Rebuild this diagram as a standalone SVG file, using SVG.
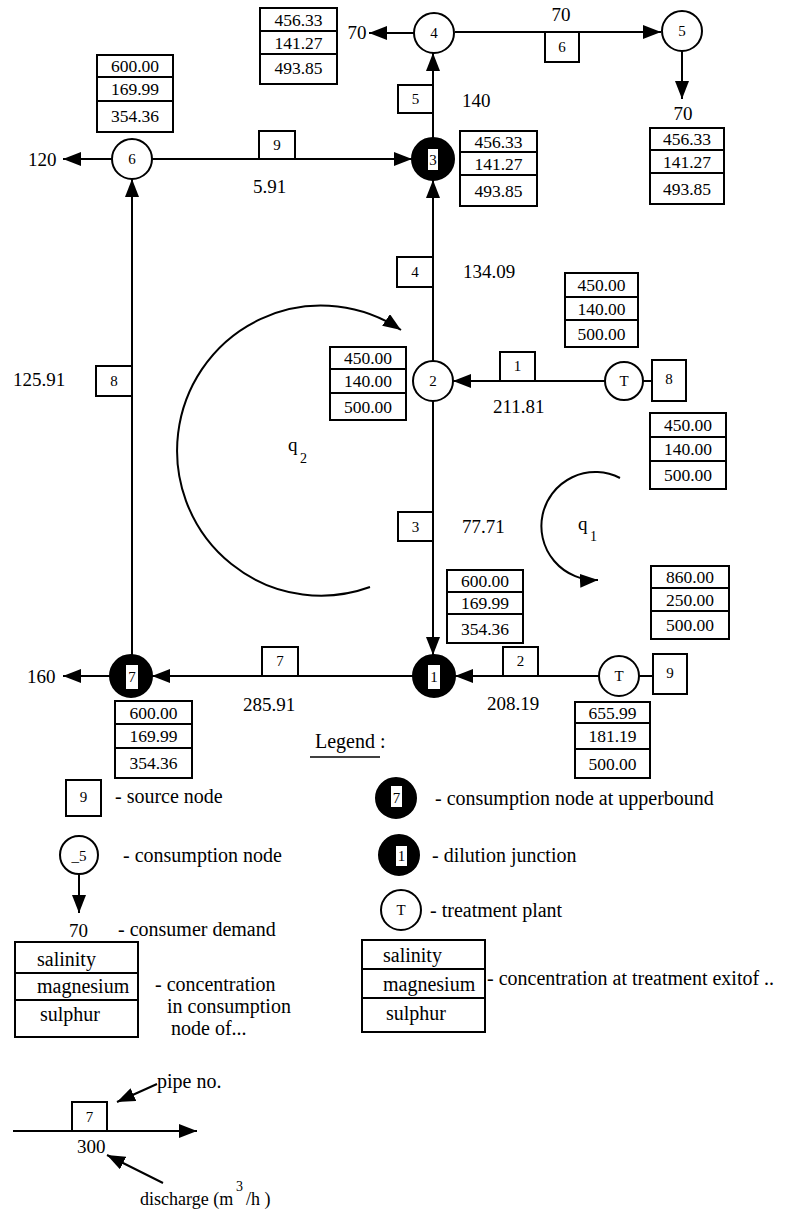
<svg xmlns="http://www.w3.org/2000/svg" width="792" height="1213" viewBox="0 0 792 1213" font-family="'Liberation Serif', 'DejaVu Serif', 'Times New Roman', serif">
<style>
.ln{stroke:#000;stroke-width:2;fill:none}
.bx{fill:#fff;stroke:#000;stroke-width:2}
.nd{fill:#fff;stroke:#000;stroke-width:2}
.bk{fill:#000;stroke:#000;stroke-width:2}
.wr{fill:#fff;stroke:none}
text{font-family:'Liberation Serif','DejaVu Serif','Times New Roman',serif;fill:#000}
.v{font-size:17.5px;text-anchor:middle}
.f{font-size:19px}
.fc{font-size:19px;text-anchor:middle}
.n{font-size:15px;text-anchor:middle}
.lg{font-size:20px}
.sm{font-size:14px}
</style>
<defs>
<marker id="ah" markerUnits="userSpaceOnUse" markerWidth="18" markerHeight="14" refX="18" refY="7" orient="auto" viewBox="0 0 18 14">
<path d="M0,0 L18,7 L0,14 z" fill="#000"/>
</marker>
</defs>
<rect width="792" height="1213" fill="#fff"/>

<g id="connectors">
<line class="ln" x1="414" y1="33" x2="369" y2="33" marker-end="url(#ah)"/>
<line class="ln" x1="455" y1="32" x2="661" y2="32" marker-end="url(#ah)"/>
<line class="ln" x1="682" y1="51" x2="682" y2="99" marker-end="url(#ah)"/>
<line class="ln" x1="433" y1="138" x2="433" y2="53" marker-end="url(#ah)"/>
<line class="ln" x1="112" y1="159" x2="63" y2="159" marker-end="url(#ah)"/>
<line class="ln" x1="152" y1="159" x2="412" y2="159" marker-end="url(#ah)"/>
<line class="ln" x1="132" y1="655" x2="132" y2="179" marker-end="url(#ah)"/>
<line class="ln" x1="433" y1="361" x2="433" y2="180" marker-end="url(#ah)"/>
<line class="ln" x1="605" y1="381" x2="453" y2="381" marker-end="url(#ah)"/>
<line class="ln" x1="643" y1="381" x2="652" y2="381"/>
<line class="ln" x1="433" y1="401" x2="433" y2="655" marker-end="url(#ah)"/>
<line class="ln" x1="599" y1="676" x2="455" y2="676" marker-end="url(#ah)"/>
<line class="ln" x1="639" y1="676" x2="653" y2="676"/>
<line class="ln" x1="413" y1="676" x2="152" y2="676" marker-end="url(#ah)"/>
<line class="ln" x1="110" y1="676" x2="63" y2="676" marker-end="url(#ah)"/>
<path class="ln" d="M370 587 A144 145 0 1 1 401 330" marker-end="url(#ah)"/>
<path class="ln" d="M620 478 A54 54 0 1 0 598 580" marker-end="url(#ah)"/>
</g>

<g id="pipes">
<g id="p9"><rect class="bx" x="259" y="131" width="36" height="28"/><text class="n" x="277" y="150">9</text></g>
<g id="p6"><rect class="bx" x="545" y="32" width="34" height="30"/><text class="n" x="562" y="52">6</text></g>
<g id="p5"><rect class="bx" x="398" y="85" width="35" height="28"/><text class="n" x="415.5" y="104">5</text></g>
<g id="p4"><rect class="bx" x="397" y="257" width="36" height="30"/><text class="n" x="415" y="277">4</text></g>
<g id="p8"><rect class="bx" x="96" y="366" width="36" height="30"/><text class="n" x="114" y="386">8</text></g>
<g id="p1"><rect class="bx" x="500" y="352" width="35" height="29"/><text class="n" x="517.5" y="371">1</text></g>
<g id="p3"><rect class="bx" x="398" y="512" width="35" height="29"/><text class="n" x="415.5" y="532">3</text></g>
<g id="p2"><rect class="bx" x="503" y="647" width="35" height="29"/><text class="n" x="520.5" y="666">2</text></g>
<g id="p7"><rect class="bx" x="262" y="647" width="36" height="29"/><text class="n" x="280" y="666">7</text></g>
</g>

<g id="node4"><circle class="nd" cx="434" cy="33" r="20"/><text class="n" x="434" y="38">4</text></g>
<g id="node5"><circle class="nd" cx="682" cy="31" r="20"/><text class="n" x="682" y="36">5</text></g>
<g id="node6"><circle class="nd" cx="132" cy="159" r="20"/><text class="n" x="132" y="164">6</text></g>
<g id="node3"><circle class="bk" cx="433" cy="159" r="21"/><rect class="wr" x="428" y="149" width="10" height="21"/><text class="n" x="433" y="165">3</text></g>
<g id="node2"><circle class="nd" cx="433" cy="381" r="20"/><text class="n" x="433" y="386">2</text></g>
<g id="nodeT1"><circle class="nd" cx="624" cy="381" r="19"/><text class="n" x="624" y="386">T</text></g>
<g id="src8"><rect class="bx" x="652" y="360" width="34" height="41"/><text class="n" x="669" y="384">8</text></g>
<g id="node7"><circle class="bk" cx="131" cy="676" r="21"/><rect class="wr" x="126" y="665" width="12" height="24"/><text class="n" x="132" y="682">7</text></g>
<g id="node1"><circle class="bk" cx="434" cy="676" r="21"/><rect class="wr" x="428" y="665" width="12" height="24"/><text class="n" x="434" y="682">1</text></g>
<g id="nodeT2"><circle class="nd" cx="619" cy="676" r="20"/><text class="n" x="619" y="681">T</text></g>
<g id="src9"><rect class="bx" x="653" y="654" width="34" height="40"/><text class="n" x="670" y="678">9</text></g>

<g id="concA"><rect class="bx" x="260" y="8" width="77" height="76"/><line class="ln" x1="260" y1="31" x2="337" y2="31"/><line class="ln" x1="260" y1="54" x2="337" y2="54"/><text class="v" x="298.5" y="25.5">456.33</text><text class="v" x="298.5" y="48.5">141.27</text><text class="v" x="298.5" y="74">493.85</text></g>
<g id="concB"><rect class="bx" x="97" y="55" width="76" height="77"/><line class="ln" x1="97" y1="77" x2="173" y2="77"/><line class="ln" x1="97" y1="101" x2="173" y2="101"/><text class="v" x="135" y="72">600.00</text><text class="v" x="135" y="95">169.99</text><text class="v" x="135" y="122">354.36</text></g>
<g id="concC"><rect class="bx" x="460" y="131" width="77" height="75"/><line class="ln" x1="460" y1="152" x2="537" y2="152"/><line class="ln" x1="460" y1="175" x2="537" y2="175"/><text class="v" x="498.5" y="147.5">456.33</text><text class="v" x="498.5" y="169.5">141.27</text><text class="v" x="498.5" y="196.5">493.85</text></g>
<g id="concD"><rect class="bx" x="650" y="128" width="74" height="76"/><line class="ln" x1="650" y1="150" x2="724" y2="150"/><line class="ln" x1="650" y1="173" x2="724" y2="173"/><text class="v" x="687" y="145">456.33</text><text class="v" x="687" y="167.5">141.27</text><text class="v" x="687" y="194.5">493.85</text></g>
<g id="concE"><rect class="bx" x="565" y="273" width="73" height="74"/><line class="ln" x1="565" y1="297" x2="638" y2="297"/><line class="ln" x1="565" y1="320" x2="638" y2="320"/><text class="v" x="601.5" y="291">450.00</text><text class="v" x="601.5" y="314.5">140.00</text><text class="v" x="601.5" y="339.5">500.00</text></g>
<g id="concF"><rect class="bx" x="330" y="347" width="76" height="73"/><line class="ln" x1="330" y1="369" x2="406" y2="369"/><line class="ln" x1="330" y1="393" x2="406" y2="393"/><text class="v" x="368" y="364">450.00</text><text class="v" x="368" y="387">140.00</text><text class="v" x="368" y="412.5">500.00</text></g>
<g id="concG"><rect class="bx" x="650" y="413" width="76" height="76"/><line class="ln" x1="650" y1="437" x2="726" y2="437"/><line class="ln" x1="650" y1="461" x2="726" y2="461"/><text class="v" x="688" y="431">450.00</text><text class="v" x="688" y="455">140.00</text><text class="v" x="688" y="481">500.00</text></g>
<g id="concH"><rect class="bx" x="447" y="570" width="76" height="73"/><line class="ln" x1="447" y1="592" x2="523" y2="592"/><line class="ln" x1="447" y1="614" x2="523" y2="614"/><text class="v" x="485" y="587">600.00</text><text class="v" x="485" y="609">169.99</text><text class="v" x="485" y="634.5">354.36</text></g>
<g id="concI"><rect class="bx" x="651" y="566" width="78" height="73"/><line class="ln" x1="651" y1="588" x2="729" y2="588"/><line class="ln" x1="651" y1="611" x2="729" y2="611"/><text class="v" x="690" y="583">860.00</text><text class="v" x="690" y="605.5">250.00</text><text class="v" x="690" y="631">500.00</text></g>
<g id="concJ"><rect class="bx" x="115" y="701" width="77" height="77"/><line class="ln" x1="115" y1="724" x2="192" y2="724"/><line class="ln" x1="115" y1="748" x2="192" y2="748"/><text class="v" x="153.5" y="718.5">600.00</text><text class="v" x="153.5" y="742">169.99</text><text class="v" x="153.5" y="769">354.36</text></g>
<g id="concK"><rect class="bx" x="575" y="702" width="75" height="76"/><line class="ln" x1="575" y1="723" x2="650" y2="723"/><line class="ln" x1="575" y1="749" x2="650" y2="749"/><text class="v" x="612.5" y="718.5">655.99</text><text class="v" x="612.5" y="742">181.19</text><text class="v" x="612.5" y="769.5">500.00</text></g>

<g id="flows">
<text class="fc" x="357" y="39">70</text>
<text class="fc" x="561" y="21">70</text>
<text class="fc" x="683" y="120">70</text>
<text class="f" x="462" y="107">140</text>
<text class="f" x="28" y="166">120</text>
<text class="f" x="253" y="193">5.91</text>
<text class="f" x="463" y="278">134.09</text>
<text class="f" x="13" y="386">125.91</text>
<text class="f" x="493" y="413">211.81</text>
<text class="f" x="462" y="533">77.71</text>
<text class="f" x="27" y="683">160</text>
<text class="f" x="243" y="711">285.91</text>
<text class="f" x="487" y="710">208.19</text>
<text class="f" x="288" y="451">q</text><text class="sm" x="300" y="463">2</text>
<text class="f" x="578" y="530">q</text><text class="sm" x="590" y="541">1</text>
</g>

<g id="legend">
<text class="lg" x="315" y="748">Legend :</text>
<line class="ln" x1="310" y1="757" x2="380" y2="757" style="stroke-width:1.5"/>
<rect class="bx" x="66" y="780" width="35" height="36"/><text class="n" x="83.5" y="802">9</text>
<text class="lg" x="115" y="803">- source node</text>
<circle class="nd" cx="79" cy="855" r="19"/><text class="n" x="79" y="861">_5</text>
<text class="lg" x="123" y="862">- consumption node</text>
<line class="ln" x1="79" y1="874" x2="79" y2="913" marker-end="url(#ah)"/>
<text class="f" x="69" y="937">70</text>
<text class="lg" x="118" y="936">- consumer demand</text>
<rect class="bx" x="15" y="942" width="123" height="95"/><line class="ln" x1="15" y1="973" x2="138" y2="973"/><line class="ln" x1="15" y1="1000" x2="138" y2="1000"/>
<text class="lg" x="37" y="966">salinity</text><text class="lg" x="37" y="993">magnesium</text><text class="lg" x="40" y="1021">sulphur</text>
<text class="lg" x="155" y="991">- concentration</text>
<text class="lg" x="167" y="1013">in consumption</text>
<text class="lg" x="171" y="1035">node of...</text>
<circle class="bk" cx="396" cy="798" r="20"/><rect class="wr" x="391" y="786" width="11" height="21"/><text class="n" x="396.5" y="803">7</text>
<text class="lg" x="435" y="805">- consumption node at upperbound</text>
<circle class="bk" cx="399" cy="855" r="20"/><rect class="wr" x="396" y="846" width="11" height="20"/><text class="n" x="401.5" y="861">1</text>
<text class="lg" x="432" y="862">- dilution junction</text>
<circle class="nd" cx="401" cy="910" r="20"/><text class="n" x="401" y="915">T</text>
<text class="lg" x="430" y="917">- treatment plant</text>
<rect class="bx" x="362" y="940" width="123" height="92"/><line class="ln" x1="362" y1="969" x2="485" y2="969"/><line class="ln" x1="362" y1="998" x2="485" y2="998"/>
<text class="lg" x="383" y="962">salinity</text><text class="lg" x="383" y="991">magnesium</text><text class="lg" x="386" y="1020">sulphur</text>
<text class="lg" x="487" y="985">- concentration at treatment exitof ..</text>
<line class="ln" x1="13" y1="1131" x2="197" y2="1131" marker-end="url(#ah)"/>
<rect class="bx" x="72" y="1102" width="35" height="29"/><text class="n" x="89.5" y="1122">7</text>
<text class="f" x="77" y="1153">300</text>
<text class="lg" x="157" y="1088">pipe no.</text>
<line class="ln" x1="157" y1="1084" x2="117" y2="1102" marker-end="url(#ah)"/>
<line class="ln" x1="163" y1="1183" x2="107" y2="1155" marker-end="url(#ah)"/>
<text style="font-size:18px" x="140" y="1205">discharge (m</text><text class="sm" x="236" y="1191">3</text><text style="font-size:18px" x="246" y="1205">/h )</text>
</g>
</svg>
